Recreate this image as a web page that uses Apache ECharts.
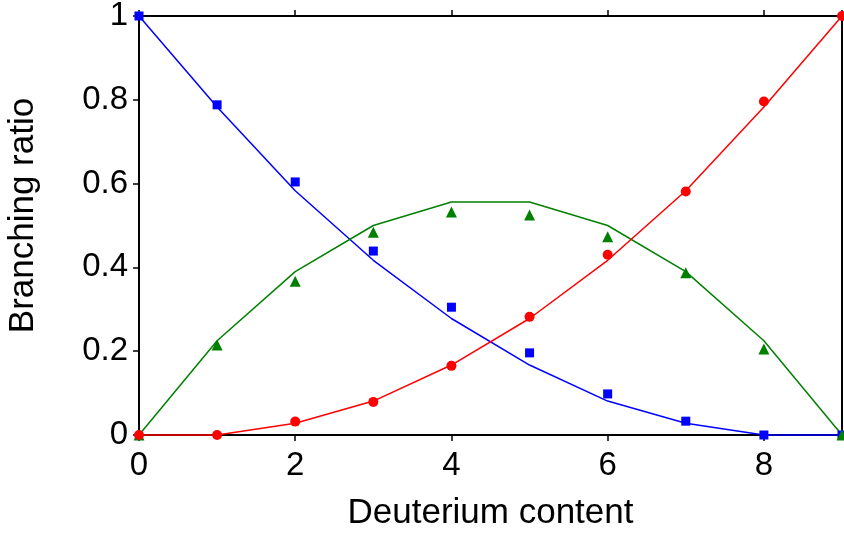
<!DOCTYPE html>
<html>
<head>
<meta charset="utf-8">
<script src="https://cdn.jsdelivr.net/npm/echarts@6/dist/echarts.min.js"></script>
<style>html,body{margin:0;padding:0;background:#fff;}#c{width:844px;height:533px;}</style>
</head>
<body>
<div id="c"></div>
<script>
var deuterium = [0, 1, 2, 3, 4, 5, 6, 7, 8, 9];
var xTicks = [0, 2, 4, 6, 8];
var yTicks = [0, 0.2, 0.4, 0.6, 0.8, 1];

// measured points (markers)
var blueMeasured  = [1.0, 0.788, 0.604, 0.439, 0.305, 0.196, 0.098, 0.033, 0.0, 0.0];
var greenMeasured = [0.0, 0.215, 0.367, 0.484, 0.532, 0.525, 0.473, 0.387, 0.205, 0.0];
var redMeasured   = [0.0, 0.0, 0.032, 0.079, 0.165, 0.282, 0.430, 0.581, 0.796, 1.0];

// model curves (lines)
var blueModel  = [1.0, 0.783, 0.583, 0.417, 0.278, 0.167, 0.081, 0.028, 0.0, 0.0];
var greenModel = [0.0, 0.225, 0.390, 0.500, 0.556, 0.556, 0.500, 0.390, 0.225, 0.0];
var redModel   = [0.0, 0.0, 0.028, 0.081, 0.167, 0.278, 0.417, 0.583, 0.783, 1.0];

var xTitle = 'Deuterium content';
var yTitle = 'Branching ratio';

function pairs(xs, ys) { return xs.map(function (x, i) { return [x, ys[i]]; }); }

var FONT = '"Liberation Sans", Arial, Helvetica, sans-serif';
var axisLineStyle = { color: '#000', width: 2 };
var tickStyle = { color: '#000', width: 1.5 };

function lineSeries(name, data, color) {
  return { name: name, type: 'line', data: pairs(deuterium, data), showSymbol: false, symbol: 'none',
    clip: false, lineStyle: { color: color, width: 1.5, opacity: 1 }, itemStyle: { color: color }, animation: false, z: 3 };
}
function markerSeries(name, data, color, symbol, size) {
  return { name: name, type: 'scatter', data: pairs(deuterium, data), symbol: symbol, symbolSize: size,
    clip: false, itemStyle: { color: color, opacity: 1 }, animation: false, z: 4 };
}

var chart = echarts.init(document.getElementById('c'), null, { renderer: 'canvas' });
chart.setOption({
  animation: false,
  backgroundColor: '#fff',
  grid: { left: 139, right: 2, top: 16, bottom: 98, containLabel: false, outerBoundsMode: 'none' },
  xAxis: [
    { type: 'value', position: 'bottom', min: 0, max: 9, interval: 2,
      name: xTitle, nameLocation: 'middle', nameGap: 61,
      nameTextStyle: { fontFamily: FONT, fontSize: 35, color: '#000' },
      axisLine: { show: true, onZero: false, lineStyle: axisLineStyle },
      axisTick: { show: true, length: 6, lineStyle: tickStyle },
      axisLabel: { fontFamily: FONT, fontSize: 33, color: '#000', margin: 14, showMaxLabel: false,
        formatter: function (v) { return xTicks.indexOf(v) >= 0 ? String(v) : ''; } },
      splitLine: { show: false } },
    { type: 'value', position: 'top', min: 0, max: 9, interval: 2,
      axisLine: { show: true, onZero: false, lineStyle: axisLineStyle },
      axisTick: { show: true, length: 6, lineStyle: tickStyle },
      axisLabel: { show: false }, splitLine: { show: false } }
  ],
  yAxis: [
    { type: 'value', position: 'left', min: 0, max: 1, interval: 0.2,
      name: yTitle, nameLocation: 'middle', nameGap: 98,
      nameTextStyle: { fontFamily: FONT, fontSize: 35, color: '#000', padding: [0, 0, 0, 20] },
      axisLine: { show: true, onZero: false, lineStyle: axisLineStyle },
      axisTick: { show: true, length: 6, lineStyle: tickStyle },
      axisLabel: { fontFamily: FONT, fontSize: 33, color: '#000', margin: 11,
        formatter: function (v) { var r = Math.round(v * 10) / 10; return yTicks.indexOf(r) >= 0 ? String(r) : ''; } },
      splitLine: { show: false } },
    { type: 'value', position: 'right', min: 0, max: 1, interval: 0.2,
      axisLine: { show: true, onZero: false, lineStyle: axisLineStyle },
      axisTick: { show: false }, axisLabel: { show: false }, splitLine: { show: false } }
  ],
  series: [
    lineSeries('blueModel', blueModel, '#0000ff'),
    markerSeries('blue', blueMeasured, '#0000ff', 'rect', 9),
    lineSeries('greenModel', greenModel, '#008000'),
    markerSeries('green', greenMeasured, '#008000', 'triangle', 11),
    lineSeries('redModel', redModel, '#ff0000'),
    markerSeries('red', redMeasured, '#ff0000', 'circle', 10)
  ]
});
</script>
</body>
</html>
